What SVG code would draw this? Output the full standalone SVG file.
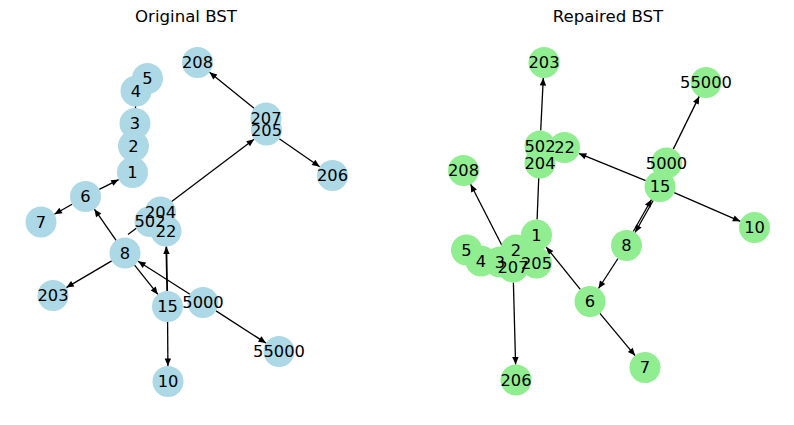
<svg xmlns="http://www.w3.org/2000/svg" width="794" height="425" viewBox="0 0 794 425">
  <style>
    .title { font-family: "DejaVu Sans", "Liberation Sans", sans-serif; font-size: 16.6px; fill: #000; text-anchor: middle; }
    .lbl { font-family: "DejaVu Sans", "Liberation Sans", sans-serif; font-size: 16.3px; fill: #000; text-anchor: middle; }
    .edge { stroke: #000; stroke-width: 1.3; fill: none; }
    .arrow { marker-end: url(#head); }
    .orig circle { fill: #add8e6; }
    .fixed circle { fill: #90ee90; }
  </style>
  <defs>
    <marker id="head" viewBox="-8 -4 9 8" markerWidth="9" markerHeight="8" refX="0" refY="0" markerUnits="userSpaceOnUse" orient="auto" overflow="visible">
      <path d="M0,0 L-7.5,-3.2 L-7.5,3.2 Z" fill="#000"/>
    </marker>
  </defs>
  <rect width="794" height="425" fill="#fff"/>

  <text class="title" x="186" y="22">Original BST</text>
  <text class="title" x="608" y="22">Repaired BST</text>

  <!-- Left tree: connectors -->
  <g id="edges-original">
    <line class="edge arrow" x1="99.3" y1="189.4" x2="118.7" y2="179.6"/>
    <line class="edge arrow" x1="72.1" y1="204.2" x2="54.4" y2="214.3"/>
    <line class="edge arrow" x1="116.1" y1="240.3" x2="94.4" y2="209.2"/>
    <line class="edge arrow" x1="111.7" y1="260.9" x2="66.3" y2="287.6"/>
    <line class="edge arrow" x1="134.6" y1="265.1" x2="157.9" y2="294.4"/>
    <line class="edge arrow" x1="189.9" y1="294.2" x2="138.1" y2="261.3"/>
    <line class="edge arrow" x1="167.2" y1="291" x2="166.3" y2="246.5" style="stroke-width:1.8"/>
    <line class="edge arrow" x1="167.6" y1="322" x2="167.9" y2="366"/>
    <line class="edge arrow" x1="216" y1="310.9" x2="266" y2="343.1"/>
    <line class="edge arrow" x1="128" y1="234.5" x2="254.1" y2="139.3"/>
    <line class="edge arrow" x1="254" y1="108.3" x2="209.5" y2="72.2"/>
    <line class="edge arrow" x1="279.3" y1="138.8" x2="319.7" y2="166.7"/>
    <line class="edge" x1="135" y1="123.5" x2="136" y2="91"/>
  </g>

  <!-- Left tree: nodes -->
  <g class="orig">
    <g id="orig-5"><circle cx="147.5" cy="78.5" r="15.5"/></g>
    <g id="orig-4"><circle cx="136" cy="91" r="15.5"/></g>
    <g id="orig-3"><circle cx="135" cy="123.5" r="15.5"/></g>
    <g id="orig-2"><circle cx="133.5" cy="146" r="15.5"/></g>
    <g id="orig-1"><circle cx="132.5" cy="172.5" r="15.5"/></g>
    <g id="orig-6"><circle cx="85.5" cy="196.5" r="15.5"/></g>
    <g id="orig-7"><circle cx="41" cy="222" r="15.5"/></g>
    <g id="orig-8"><circle cx="125" cy="253" r="15.5"/></g>
    <g id="orig-203"><circle cx="53" cy="295.5" r="15.5"/></g>
    <g id="orig-15"><circle cx="167.5" cy="306.5" r="15.5"/></g>
    <g id="orig-10"><circle cx="168" cy="381.5" r="15.5"/></g>
    <g id="orig-5000"><circle cx="203" cy="302.5" r="15.5"/></g>
    <g id="orig-55000"><circle cx="279" cy="351.5" r="15.5"/></g>
    <g id="orig-204"><circle cx="160.5" cy="212" r="15.5"/></g>
    <g id="orig-502"><circle cx="150" cy="221.5" r="15.5"/></g>
    <g id="orig-22"><circle cx="166" cy="231" r="15.5"/></g>
    <g id="orig-207"><circle cx="266" cy="118" r="15.5"/></g>
    <g id="orig-205"><circle cx="266.5" cy="130" r="15.5"/></g>
    <g id="orig-208"><circle cx="197.5" cy="62.5" r="15.5"/></g>
    <g id="orig-206"><circle cx="332.5" cy="175.5" r="15.5"/></g>
  </g>
  <!-- Left tree: labels, drawn above every circle -->
  <g id="labels-original" class="lbl">
    <text x="147.5" y="84">5</text>
    <text x="136" y="96.5">4</text>
    <text x="135" y="129">3</text>
    <text x="133.5" y="151.5">2</text>
    <text x="132.5" y="178">1</text>
    <text x="85.5" y="202">6</text>
    <text x="41" y="227.5">7</text>
    <text x="125" y="258.5">8</text>
    <text x="53" y="301">203</text>
    <text x="167.5" y="312">15</text>
    <text x="168" y="387">10</text>
    <text x="203" y="308">5000</text>
    <text x="279" y="357">55000</text>
    <text x="160.5" y="217.5">204</text>
    <text x="150" y="227">502</text>
    <text x="166" y="236.5">22</text>
    <text x="266" y="123.5">207</text>
    <text x="266.5" y="135.5">205</text>
    <text x="197.5" y="68">208</text>
    <text x="332.5" y="181">206</text>
  </g>

  <!-- Right tree: connectors -->
  <g id="edges-repaired">
    <line class="edge arrow" x1="540.7" y1="130.5" x2="543.3" y2="78"/>
    <line class="edge arrow" x1="537.1" y1="219.5" x2="539.4" y2="161.5"/>
    <line class="edge arrow" x1="645.7" y1="180.6" x2="578.8" y2="153.4"/>
    <line class="edge arrow" x1="674.2" y1="192.7" x2="740.3" y2="221.3"/>
    <line class="edge arrow" x1="673.3" y1="149.1" x2="699.2" y2="96.4"/>
    <line class="edge arrow" x1="653.2" y1="200.5" x2="635.1" y2="232.5"/>
    <line class="edge arrow" x1="633.3" y1="231.5" x2="651.5" y2="199.5"/>
    <line class="edge arrow" x1="618" y1="258.5" x2="598.5" y2="288.5"/>
    <line class="edge arrow" x1="599.9" y1="313.4" x2="635.1" y2="355.6"/>
    <line class="edge arrow" x1="580.3" y1="289.4" x2="546.2" y2="247.1"/>
    <line class="edge arrow" x1="505.9" y1="253.2" x2="470.6" y2="184.3"/>
    <line class="edge arrow" x1="513.4" y1="282.5" x2="515.6" y2="364.5"/>
  </g>

  <!-- Right tree: nodes -->
  <g class="fixed">
    <g id="fixed-203"><circle cx="544" cy="62.5" r="15.5"/></g>
    <g id="fixed-502"><circle cx="540" cy="146" r="15.5"/></g>
    <g id="fixed-22"><circle cx="564.5" cy="147.5" r="15.5"/></g>
    <g id="fixed-204"><circle cx="540" cy="163" r="15.5"/></g>
    <g id="fixed-208"><circle cx="463.5" cy="170.5" r="15.5"/></g>
    <g id="fixed-1"><circle cx="536.5" cy="235" r="15.5"/></g>
    <g id="fixed-5"><circle cx="466.5" cy="250" r="15.5"/></g>
    <g id="fixed-4"><circle cx="481" cy="261" r="15.5"/></g>
    <g id="fixed-3"><circle cx="500" cy="262" r="15.5"/></g>
    <g id="fixed-2"><circle cx="516" cy="250" r="15.5"/></g>
    <g id="fixed-207"><circle cx="513" cy="267" r="15.5"/></g>
    <g id="fixed-205"><circle cx="536.5" cy="263" r="15.5"/></g>
    <g id="fixed-206"><circle cx="516" cy="380" r="15.5"/></g>
    <g id="fixed-6"><circle cx="590" cy="301.5" r="15.5"/></g>
    <g id="fixed-55000"><circle cx="706" cy="82.5" r="15.5"/></g>
    <g id="fixed-5000"><circle cx="666.5" cy="163" r="15.5"/></g>
    <g id="fixed-15"><circle cx="660" cy="186.5" r="15.5"/></g>
    <g id="fixed-10"><circle cx="754.5" cy="227.5" r="15.5"/></g>
    <g id="fixed-8"><circle cx="626.5" cy="245.5" r="15.5"/></g>
    <g id="fixed-7"><circle cx="645" cy="367.5" r="15.5"/></g>
  </g>
  <!-- Right tree: labels -->
  <g id="labels-repaired" class="lbl">
    <text x="544" y="68">203</text>
    <text x="540" y="151.5">502</text>
    <text x="564.5" y="153">22</text>
    <text x="540" y="168.5">204</text>
    <text x="463.5" y="176">208</text>
    <text x="536.5" y="240.5">1</text>
    <text x="466.5" y="255.5">5</text>
    <text x="481" y="266.5">4</text>
    <text x="500" y="267.5">3</text>
    <text x="516" y="255.5">2</text>
    <text x="513" y="272.5">207</text>
    <text x="536.5" y="268.5">205</text>
    <text x="516" y="385.5">206</text>
    <text x="590" y="307">6</text>
    <text x="706" y="88">55000</text>
    <text x="666.5" y="168.5">5000</text>
    <text x="660" y="192">15</text>
    <text x="754.5" y="233">10</text>
    <text x="626.5" y="251">8</text>
    <text x="645" y="373">7</text>
  </g>
</svg>
